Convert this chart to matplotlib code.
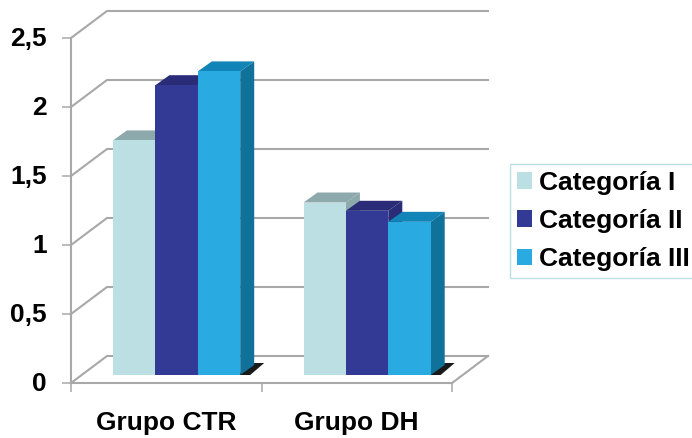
import matplotlib
matplotlib.use("Agg")
import matplotlib.pyplot as plt
from matplotlib.patches import Polygon, Patch
from matplotlib.transforms import ScaledTranslation

groups = ["Grupo CTR", "Grupo DH"]
series = ["Categoría I", "Categoría II", "Categoría III"]
values_cat1 = [1.70, 1.25]
values_cat2 = [2.10, 1.19]
values_cat3 = [2.20, 1.11]
y_ticks = [0, 0.5, 1, 1.5, 2, 2.5]
y_labels = ["0", "0,5", "1", "1,5", "2", "2,5"]

front_colors = ["#BCDFE4", "#333A96", "#29ABE2"]
top_colors = ["#8DA9AB", "#2A2C78", "#1284B8"]
side_colors = ["#8DA9AB", "#2A2C78", "#10719B"]
GRID = "#A8A8A8"

W, H = 692, 438
plt.rcParams["font.family"] = ["Liberation Sans", "DejaVu Sans"]
plt.rcParams["font.weight"] = "bold"
fig = plt.figure(figsize=(W / 100, H / 100), dpi=100)
L, R, B, T = 71, 452, 383, 38
ax = fig.add_axes([L / W, (H - B) / H, (R - L) / W, (B - T) / H])
ax.set_xlim(0, 2)
ax.set_ylim(0, 2.5)
ux = (R - L) / 2      # px per x unit
uy = (B - T) / 2.5    # px per y unit

wall_dx, wall_dy = 36 / ux, 27 / uy
bar_dx, bar_dy = 14 / ux, 10 / uy
base_y = 8 / uy
start = 42 / ux
bw = 42.4 / ux

# walls and floor
lw = 1.5
for v in y_ticks:
    ax.plot([0, wall_dx, 2 + wall_dx], [v, v + wall_dy, v + wall_dy],
            color=GRID, lw=lw, clip_on=False, zorder=1, solid_joinstyle="miter")
ax.plot([2, 2 + wall_dx], [0, wall_dy], color=GRID, lw=lw, clip_on=False, zorder=1)

# bars
all_vals = [values_cat1, values_cat2, values_cat3]
for g in range(len(groups)):
    x0 = g + start
    xe = x0 + 3 * bw
    # cast shadow on the floor
    ax.add_patch(Polygon([(xe - 2 / ux, base_y), (xe + 10 / ux, base_y),
                          (xe + 24 / ux, base_y + 12 / uy), (xe + 10 / ux, base_y + 12 / uy)],
                         closed=True, fc="#1A1A1A", ec="none", zorder=2, clip_on=False))
    for s in range(3):
        v = all_vals[s][g]
        x = x0 + s * bw
        top = base_y + v
        ax.add_patch(Polygon([(x + bw, base_y), (x + bw + bar_dx, base_y + bar_dy),
                              (x + bw + bar_dx, top + bar_dy), (x + bw, top)],
                             closed=True, fc=side_colors[s], ec="none", zorder=3 + s, clip_on=False))
        ax.add_patch(Polygon([(x, top), (x + bar_dx, top + bar_dy),
                              (x + bw + bar_dx, top + bar_dy), (x + bw, top)],
                             closed=True, fc=top_colors[s], ec="none", zorder=3 + s, clip_on=False))
        ax.bar(x, v, bw, bottom=base_y, align="edge", color=front_colors[s],
               zorder=3.5 + s, clip_on=False)

# axes
for name in ["top", "right"]:
    ax.spines[name].set_visible(False)
for name in ["left", "bottom"]:
    ax.spines[name].set_color(GRID)
    ax.spines[name].set_linewidth(lw)
ax.patch.set_alpha(0)
ax.set_yticks(y_ticks)
ax.set_yticklabels(y_labels, fontsize=19, fontweight="bold")
ax.tick_params(axis="y", length=6.5, width=1.1, color=GRID, pad=11)
shift = ScaledTranslation(0, 1.5 / 100, fig.dpi_scale_trans)
for t in ax.get_yticklabels():
    t.set_transform(t.get_transform() + shift)
ax.set_xticks([0, 1, 2])
ax.set_xticklabels([])
ax.set_xticks([0.5, 1.5], minor=True)
ax.set_xticklabels(groups, minor=True, fontsize=19, fontweight="bold")
ax.tick_params(axis="x", which="major", length=6.5, width=1.1, color=GRID)
ax.tick_params(axis="x", which="minor", length=0, pad=20.5)

handles = [Patch(fc=c, ec="none") for c in front_colors]
leg = fig.legend(handles, series, loc="lower left",
                 bbox_to_anchor=(510 / W, (H - 278) / H), bbox_transform=fig.transFigure,
                 fontsize=19, frameon=True, fancybox=False, edgecolor="#BCDFE4",
                 framealpha=1, borderaxespad=0, borderpad=0.25, labelspacing=0.54,
                 handlelength=0.6, handleheight=0.6, handletextpad=0.25)
leg.get_frame().set_linewidth(1.0)
for t in leg.get_texts():
    t.set_fontweight("bold")

fig.savefig("out.png", dpi=100)
